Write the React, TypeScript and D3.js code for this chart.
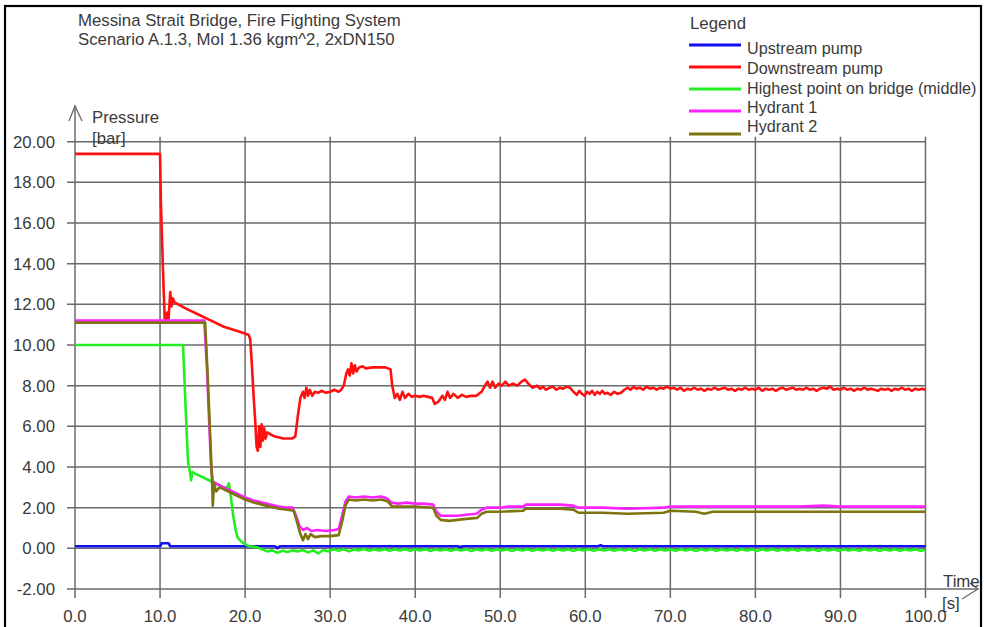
import React from "react";
import * as d3 from "d3";

// Time axis ticks [s] and pressure ticks [bar]
const timeTicks = [0, 10, 20, 30, 40, 50, 60, 70, 80, 90, 100];
const pressureTicks = [-2, 0, 2, 4, 6, 8, 10, 12, 14, 16, 18, 20];

// Pressure history [time s, pressure bar] for each monitored node
const upstreamPump: [number, number][] = [
  [0, 0.1], [10.0, 0.1], [10.2, 0.25], [11.0, 0.25], [11.2, 0.1], [23.5, 0.1], [23.8, 0.0], [24.1, 0.1],
  [45, 0.1], [45.3, 0.05], [45.6, 0.1], [61.5, 0.1], [61.8, 0.15], [62.1, 0.1], [100, 0.1],
];

const downstreamPump: [number, number][] = [
  [0, 19.4], [10.0, 19.4], [10.1, 17.0], [10.25, 15.0], [10.4, 13.0], [10.55, 11.3], [10.7, 11.2],
  [10.85, 11.6], [11.0, 11.3], [11.2, 12.6], [11.35, 11.9], [11.5, 12.3], [11.7, 12.1], [13.0, 11.8],
  [14.5, 11.5], [15.5, 11.3], [16.0, 11.2], [17.5, 10.9], [19.0, 10.7], [20.4, 10.5], [20.6, 10.3],
  [20.8, 9.0], [21.0, 7.5], [21.2, 6.2], [21.35, 5.0], [21.5, 4.8], [21.65, 6.0], [21.8, 5.0],
  [21.95, 6.1], [22.1, 5.3], [22.25, 5.9], [22.4, 5.4], [22.6, 5.7], [23.0, 5.6], [23.5, 5.5],
  [24.5, 5.4], [25.5, 5.4], [25.9, 5.5], [26.2, 6.5], [26.5, 7.4], [26.8, 7.7], [27.0, 7.4],
  [27.2, 7.9], [27.4, 7.5], [27.6, 7.8], [27.9, 7.5], [28.2, 7.7], [28.6, 7.65], [29.0, 7.75],
  [29.5, 7.65], [30.0, 7.7], [30.5, 7.8], [31.0, 7.7], [31.3, 7.8], [31.6, 8.0], [31.9, 8.6],
  [32.1, 8.8], [32.3, 8.5], [32.5, 9.1], [32.7, 8.6], [32.9, 9.0], [33.1, 8.7], [33.4, 8.9],
  [33.8, 8.95], [34.2, 8.85], [35.0, 8.9], [36.0, 8.9], [36.5, 8.9], [37.1, 8.8],
  [37.3, 8.0], [37.6, 7.4], [37.9, 7.6], [38.2, 7.3], [38.5, 7.7], [38.8, 7.4], [39.2, 7.6],
  [39.6, 7.45], [40.0, 7.5], [40.5, 7.45], [41.0, 7.5], [41.5, 7.45], [42.0, 7.4], [42.3, 7.1],
  [42.7, 7.2], [43.2, 7.5], [43.5, 7.3], [43.8, 7.7], [44.1, 7.4], [44.5, 7.6], [45.0, 7.4],
  [45.5, 7.55], [46.0, 7.45], [46.6, 7.5], [47.2, 7.5], [47.8, 7.7], [48.2, 8.0], [48.5, 8.2],
  [48.8, 7.9], [49.1, 8.2], [49.4, 7.9], [49.8, 8.1], [50.2, 8.0], [50.6, 8.2], [51.0, 8.0],
  [51.5, 8.1], [52.0, 8.0], [52.5, 8.2], [52.9, 8.3], [53.3, 8.1], [53.8, 7.9], [54.3, 8.0],
  [54.7, 7.85], [55.0, 7.95], [55.4, 7.8], [55.8, 7.9], [56.2, 7.95], [56.6, 7.8], [57.0, 7.9],
  [57.4, 7.85], [57.8, 7.95], [58.2, 7.9], [58.6, 7.7], [59.0, 7.55], [59.3, 7.75], [59.6, 7.6],
  [59.9, 7.5], [60.2, 7.7], [60.5, 7.6], [60.8, 7.75], [61.1, 7.55], [61.4, 7.7], [61.7, 7.6],
  [62.0, 7.75], [62.3, 7.6], [62.6, 7.65], [63.0, 7.55], [63.4, 7.7], [63.8, 7.6], [64.2, 7.65],
  [64.6, 7.8], [65.0, 7.9], [65.3, 7.8], [65.7, 7.95], [66.0, 7.85], [66.4, 7.9], [66.8, 7.8],
  [67.2, 7.95], [67.6, 7.85], [68.0, 7.9], [68.4, 7.8], [68.8, 7.9], [69.2, 7.85], [69.6, 7.95],
  [70.0, 7.85], [70.4, 7.9], [70.8, 7.8], [71.2, 7.9], [71.6, 7.75], [72.0, 7.85], [72.4, 7.8],
  [72.8, 7.9], [73.2, 7.8], [73.6, 7.85], [74.0, 7.75], [74.4, 7.85], [74.8, 7.8], [75.2, 7.9],
  [75.6, 7.8], [76.0, 7.85], [76.4, 7.9], [76.8, 7.8], [77.2, 7.85], [77.6, 7.75], [78.0, 7.85],
  [78.4, 7.8], [78.8, 7.9], [79.2, 7.8], [79.6, 7.85], [80.0, 7.8], [80.4, 7.9], [80.8, 7.75],
  [81.2, 7.85], [81.6, 7.8], [82.0, 7.85], [82.4, 7.75], [82.8, 7.85], [83.2, 7.9], [83.6, 7.8],
  [84.0, 7.85], [84.4, 7.9], [84.8, 7.8], [85.2, 7.85], [85.6, 7.8], [86.0, 7.9], [86.4, 7.8],
  [86.8, 7.85], [87.2, 7.75], [87.6, 7.85], [88.0, 7.9], [88.4, 7.85], [88.8, 7.95], [89.2, 7.8],
  [89.6, 7.85], [90.0, 7.8], [90.4, 7.9], [90.8, 7.8], [91.2, 7.85], [91.6, 7.75], [92.0, 7.85],
  [92.4, 7.8], [92.8, 7.9], [93.2, 7.8], [93.6, 7.85], [94.0, 7.8], [94.4, 7.75], [94.8, 7.85],
  [95.2, 7.8], [95.6, 7.85], [96.0, 7.75], [96.4, 7.85], [96.8, 7.8], [97.2, 7.9], [97.6, 7.8],
  [98.0, 7.85], [98.4, 7.75], [98.8, 7.85], [99.2, 7.8], [99.6, 7.85], [100, 7.8],
];

const highestPoint: [number, number][] = [
  [0, 10.0], [12.7, 10.0], [12.9, 8.0], [13.1, 6.0], [13.3, 4.2], [13.5, 3.8], [13.65, 3.35],
  [13.8, 3.75], [14.5, 3.6], [15.5, 3.4], [16.5, 3.2], [17.5, 3.0], [17.9, 3.0], [18.1, 3.2],
  [18.3, 2.6], [18.6, 1.6], [18.9, 0.9], [19.1, 0.55], [19.5, 0.35], [20.0, 0.2], [20.5, 0.1],
  [21.4, 0.05], [22.0, -0.05], [22.6, -0.15], [23.2, -0.1], [23.8, -0.22], [24.4, -0.12],
  [25.0, -0.18], [25.6, -0.1], [26.2, -0.15], [26.8, -0.08], [27.4, -0.2], [28.0, -0.1],
  [28.6, -0.25], [29.2, -0.08], [29.8, -0.15], [30.4, -0.05], [31.0, -0.12], [31.6, -0.05],
  [32.2, -0.15], [32.8, -0.05], [33.4, -0.1], [34.0, -0.03], [34.6, -0.12], [35.2, -0.05],
  [35.8, -0.1], [36.4, -0.04], [37.0, -0.12], [37.6, -0.05], [38.2, -0.1], [38.8, -0.04],
  [39.4, -0.12], [40.0, -0.05], [40.6, -0.1], [41.2, -0.04], [41.8, -0.13], [42.4, -0.05],
  [43.0, -0.1], [43.6, -0.05], [44.2, -0.12], [44.8, -0.04], [45.4, -0.1], [46.0, -0.05],
  [46.6, -0.13], [47.2, -0.05], [47.8, -0.1], [48.4, -0.04], [49.0, -0.12], [49.6, -0.05],
  [50.2, -0.1], [50.8, -0.05], [51.4, -0.13], [52.0, -0.05], [52.6, -0.1], [53.2, -0.04],
  [53.8, -0.12], [54.4, -0.05], [55.0, -0.1], [55.6, -0.04], [56.2, -0.12], [56.8, -0.05],
  [57.4, -0.1], [58.0, -0.05], [58.6, -0.13], [59.2, -0.05], [59.8, -0.1], [60.4, -0.04],
  [61.0, -0.12], [61.6, -0.05], [62.2, -0.1], [62.8, -0.05], [63.4, -0.12], [64.0, -0.04],
  [64.6, -0.1], [65.2, -0.05], [65.8, -0.13], [66.4, -0.05], [67.0, -0.1], [67.6, -0.04],
  [68.2, -0.12], [68.8, -0.05], [69.4, -0.1], [70.0, -0.05], [70.6, -0.12], [71.2, -0.04],
  [71.8, -0.1], [72.4, -0.05], [73.0, -0.13], [73.6, -0.05], [74.2, -0.1], [74.8, -0.04],
  [75.4, -0.12], [76.0, -0.05], [76.6, -0.1], [77.2, -0.05], [77.8, -0.12], [78.4, -0.04],
  [79.0, -0.1], [79.6, -0.05], [80.2, -0.13], [80.8, -0.05], [81.4, -0.1], [82.0, -0.04],
  [82.6, -0.12], [83.2, -0.05], [83.8, -0.1], [84.4, -0.05], [85.0, -0.12], [85.6, -0.04],
  [86.2, -0.1], [86.8, -0.05], [87.4, -0.13], [88.0, -0.05], [88.6, -0.1], [89.2, -0.04],
  [89.8, -0.12], [90.4, -0.05], [91.0, -0.1], [91.6, -0.05], [92.2, -0.12], [92.8, -0.04],
  [93.4, -0.1], [94.0, -0.05], [94.6, -0.13], [95.2, -0.05], [95.8, -0.1], [96.4, -0.04],
  [97.0, -0.12], [97.6, -0.05], [98.2, -0.1], [98.8, -0.05], [99.4, -0.12], [100, -0.08],
];

const hydrant1: [number, number][] = [
  [0, 11.2], [15.2, 11.2], [15.5, 9.0], [15.8, 6.0], [16.0, 4.0], [16.2, 3.3], [16.5, 3.2],
  [17.0, 3.1], [18.0, 2.9], [19.0, 2.7], [20.0, 2.5], [21.0, 2.35], [22.0, 2.25], [23.0, 2.15],
  [24.0, 2.05], [25.0, 2.0], [25.6, 2.0], [26.0, 1.6], [26.4, 1.1], [26.8, 0.9], [27.3, 1.0],
  [27.8, 0.85], [28.5, 0.9], [29.5, 0.85], [30.5, 0.9], [31.0, 0.95], [31.4, 1.6], [31.8, 2.3],
  [32.2, 2.55], [33.0, 2.5], [34.0, 2.55], [35.0, 2.5], [36.0, 2.55], [36.7, 2.45], [37.2, 2.25],
  [38.0, 2.2], [39.0, 2.25], [40.0, 2.2], [41.0, 2.2], [42.1, 2.15], [42.5, 1.8], [43.0, 1.6],
  [44.0, 1.6], [45.0, 1.6], [46.0, 1.65], [47.2, 1.7], [47.8, 1.9], [48.4, 2.0], [50.0, 2.0],
  [51.0, 2.05], [52.7, 2.05], [53.0, 2.15], [55.0, 2.15], [57.0, 2.15], [58.6, 2.1], [59.2, 2.0],
  [62.0, 2.0], [65.0, 1.95], [69.2, 2.0], [70.0, 2.05], [75.0, 2.05], [80.0, 2.05], [85.0, 2.05],
  [88.0, 2.1], [90.0, 2.05], [95.0, 2.05], [100, 2.05],
];

const hydrant2: [number, number][] = [
  [0, 11.1], [15.3, 11.1], [15.6, 8.5], [15.9, 5.5], [16.1, 3.5], [16.2, 2.1], [16.35, 3.2],
  [16.6, 2.8], [17.0, 3.0], [18.0, 2.8], [19.0, 2.6], [20.0, 2.4], [21.0, 2.25], [22.0, 2.15],
  [23.0, 2.05], [24.0, 1.95], [25.0, 1.9], [25.7, 1.85], [26.1, 1.3], [26.5, 0.7], [26.8, 0.4],
  [27.1, 0.7], [27.4, 0.45], [27.7, 0.7], [28.2, 0.55], [29.0, 0.6], [30.0, 0.6], [31.0, 0.65],
  [31.4, 1.3], [31.8, 2.1], [32.2, 2.4], [33.0, 2.35], [34.0, 2.4], [35.0, 2.35], [36.0, 2.4],
  [36.8, 2.3], [37.3, 2.05], [38.0, 2.05], [40.0, 2.05], [42.1, 2.0], [42.5, 1.6], [43.0, 1.4],
  [44.0, 1.35], [45.0, 1.4], [46.0, 1.45], [47.3, 1.5], [47.8, 1.7], [48.4, 1.8], [50.0, 1.8],
  [52.7, 1.85], [53.0, 1.95], [57.0, 1.95], [58.6, 1.9], [59.2, 1.75], [62.0, 1.75], [65.0, 1.7],
  [69.2, 1.75], [70.0, 1.85], [73.0, 1.8], [74.0, 1.7], [75.0, 1.8], [80.0, 1.8], [85.0, 1.8],
  [90.0, 1.8], [100, 1.8],
];

const seriesNames = [
  "Upstream pump",
  "Downstream pump",
  "Highest point on bridge (middle)",
  "Hydrant 1",
  "Hydrant 2",
];
const seriesColors = ["#1010f0", "#ff1010", "#22ee22", "#ff22ff", "#7d7410"];
const seriesData = [upstreamPump, downstreamPump, highestPoint, hydrant1, hydrant2];
// drawing order: pumps first, hydrants on top
const drawOrder = [0, 2, 1, 3, 4];

const W = 984;
const H = 627;
const FONT = "'Liberation Sans', Arial, sans-serif";
const FS = 16.8;
const LEGEND_FS = 16.2;
const TEXT = "#3a3a3a";
const GRID = "#6a6a6a";

export default function App() {
  const x = d3.scaleLinear().domain([0, 100]).range([75, 925.5]);
  const y = d3.scaleLinear().domain([-2, 20]).range([589, 141.7]);
  const line = d3
    .line<[number, number]>()
    .x((d) => x(d[0]))
    .y((d) => y(d[1]));

  const yTop = y(20);
  const yBot = y(-2);

  const legendTextY = [48, 68, 88, 107, 126];
  const legendLineY = [45, 67, 89, 111, 134];

  return (
    <svg
      width={W}
      height={H}
      viewBox={`0 0 ${W} ${H}`}
      style={{ position: "absolute", left: 0, top: 0, background: "#fff" }}
      fontFamily={FONT}
    >
      <rect x={0} y={0} width={W} height={H} fill="#fff" />
      {/* outer frame */}
      <rect x={5} y={6} width={976} height={650} fill="none" stroke="#000" strokeWidth={2.2} />

      {/* title */}
      <text x={78} y={20} dy="0.35em" fontSize={FS} fill={TEXT}>
        Messina Strait Bridge, Fire Fighting System
      </text>
      <text x={78} y={39} dy="0.35em" fontSize={FS} fill={TEXT}>
        Scenario A.1.3, MoI 1.36 kgm^2, 2xDN150
      </text>

      {/* grid: horizontal */}
      {pressureTicks.map((v) => (
        <line key={"h" + v} x1={67} x2={x(100)} y1={y(v)} y2={y(v)} stroke={GRID} strokeWidth={1.5} />
      ))}
      {/* grid: vertical */}
      {timeTicks.map((t) => (
        <line
          key={"v" + t}
          x1={x(t)}
          x2={x(t)}
          y1={t === 0 ? 106 : yTop - 5}
          y2={yBot + 9}
          stroke={GRID}
          strokeWidth={1.5}
        />
      ))}
      {/* axis arrows */}
      <path d={`M${x(0) - 6},${121} L${x(0)},${106} L${x(0) + 7},${121}`} fill="none" stroke={GRID} strokeWidth={1.3} />
      <line x1={x(100)} x2={978} y1={yBot} y2={yBot} stroke={GRID} strokeWidth={1.5} />
      <path d={`M970,583 L978,${yBot} L962,599`} fill="none" stroke={GRID} strokeWidth={1.3} />

      {/* y tick labels */}
      {pressureTicks.map((v) => (
        <text key={"yl" + v} x={55} y={y(v)} dy="0.35em" textAnchor="end" fontSize={FS} fill={TEXT}>
          {v.toFixed(2)}
        </text>
      ))}
      {/* x tick labels */}
      {timeTicks.map((t) => (
        <text key={"xl" + t} x={x(t)} y={616} dy="0.35em" textAnchor="middle" fontSize={FS} fill={TEXT}>
          {t.toFixed(1)}
        </text>
      ))}

      {/* axis titles */}
      <text x={92} y={117} dy="0.35em" fontSize={FS} fill={TEXT}>Pressure</text>
      <text x={92} y={138} dy="0.35em" fontSize={FS} fill={TEXT}>[bar]</text>
      <text x={943} y={581} dy="0.35em" fontSize={FS} fill={TEXT}>Time</text>
      <text x={942} y={603} dy="0.35em" fontSize={FS} fill={TEXT}>[s]</text>

      {/* series */}
      {drawOrder.map((i) => (
        <path
          key={"s" + i}
          d={line(seriesData[i]) || ""}
          fill="none"
          stroke={seriesColors[i]}
          strokeWidth={2.6}
          strokeLinejoin="round"
        />
      ))}

      {/* legend */}
      <text x={690} y={23} dy="0.35em" fontSize={FS} fill={TEXT}>Legend</text>
      {seriesNames.map((name, i) => (
        <g key={"lg" + i}>
          <line x1={689} x2={741} y1={legendLineY[i]} y2={legendLineY[i]} stroke={seriesColors[i]} strokeWidth={3} />
          <text x={747} y={legendTextY[i]} dy="0.35em" fontSize={LEGEND_FS} fill={TEXT}>
            {name}
          </text>
        </g>
      ))}
    </svg>
  );
}
